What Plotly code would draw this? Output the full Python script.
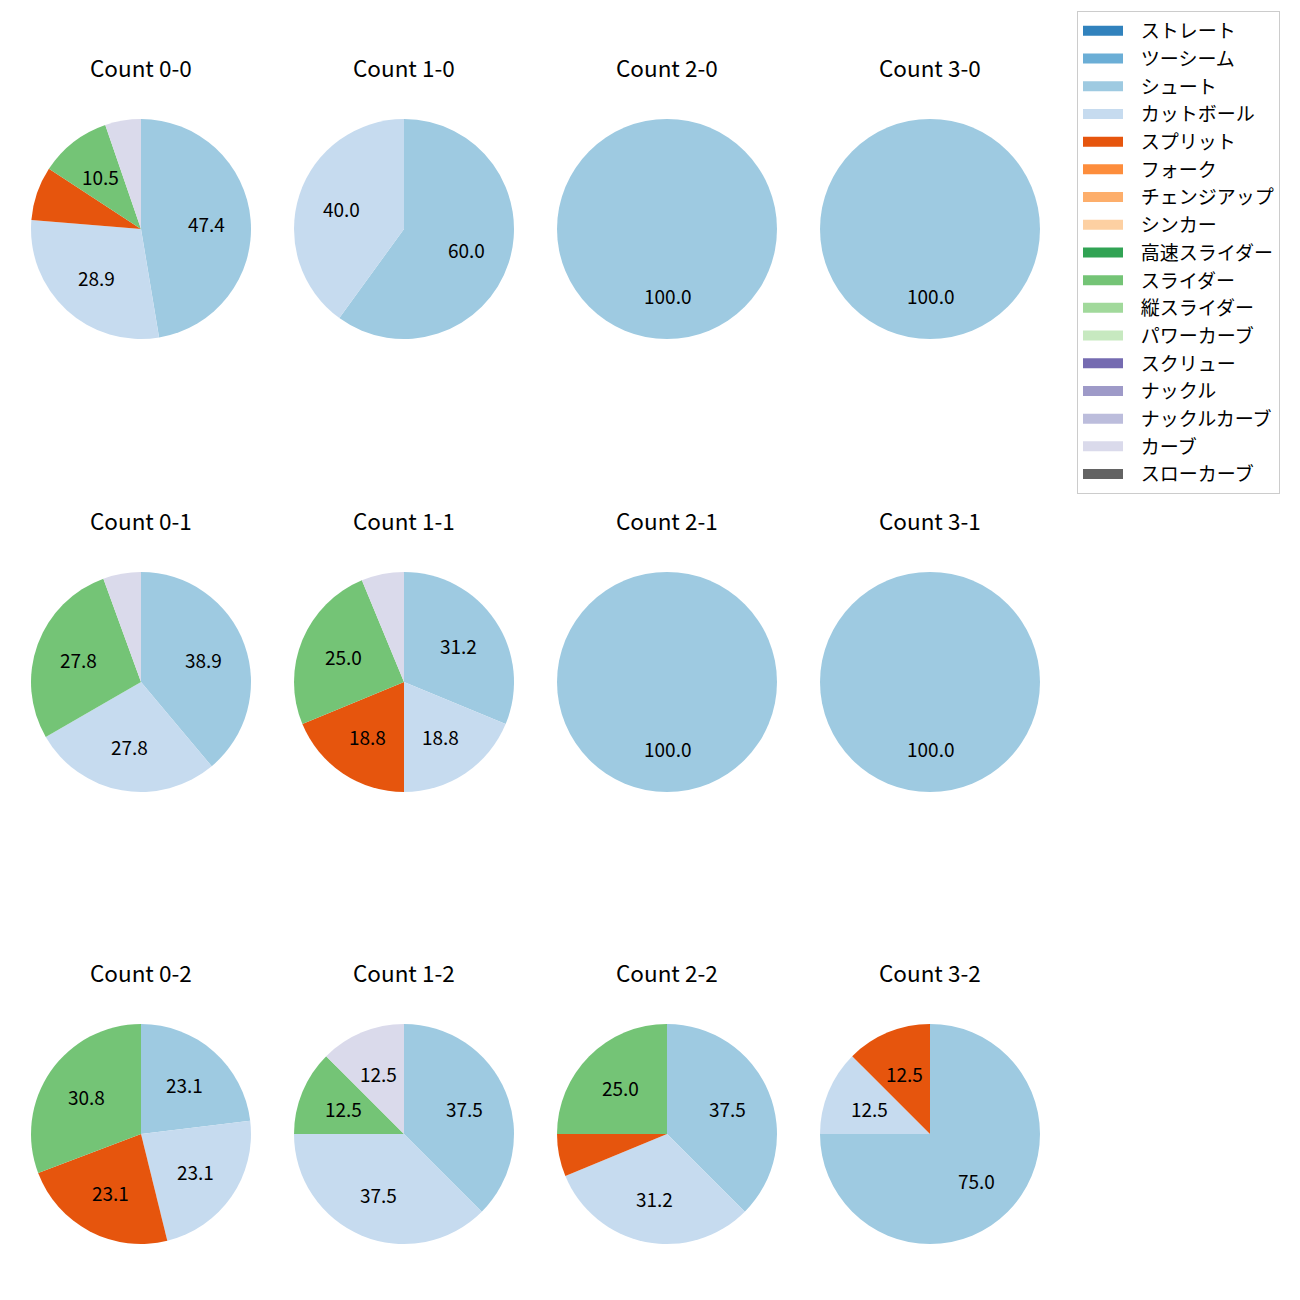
import math
import plotly.graph_objects as go

W, H = 1300, 1300
OFF = 8  # browser body margin

pitch_types = ["ストレート", "ツーシーム", "シュート", "カットボール", "スプリット", "フォーク",
               "チェンジアップ", "シンカー", "高速スライダー", "スライダー", "縦スライダー",
               "パワーカーブ", "スクリュー", "ナックル", "ナックルカーブ", "カーブ", "スローカーブ"]
colors = ["#3182bd", "#6baed6", "#9ecae1", "#c6dbef", "#e6550d", "#fd8d3c", "#fdae6b",
          "#fdd0a2", "#31a354", "#74c476", "#a1d99b", "#c7e9c0", "#756bb1", "#9e9ac8",
          "#bcbddc", "#dadaeb", "#636363"]

counts = ["0-0", "1-0", "2-0", "3-0",
          "0-1", "1-1", "2-1", "3-1",
          "0-2", "1-2", "2-2", "3-2"]

# pitch counts per ball-strike count (only non-zero types listed)
data = {
    "0-0": {"シュート": 18, "カットボール": 11, "スプリット": 3, "スライダー": 4, "カーブ": 2},
    "1-0": {"シュート": 3, "カットボール": 2},
    "2-0": {"シュート": 1},
    "3-0": {"シュート": 1},
    "0-1": {"シュート": 7, "カットボール": 5, "スライダー": 5, "カーブ": 1},
    "1-1": {"シュート": 5, "カットボール": 3, "スプリット": 3, "スライダー": 4, "カーブ": 1},
    "2-1": {"シュート": 1},
    "3-1": {"シュート": 1},
    "0-2": {"シュート": 3, "カットボール": 3, "スプリット": 3, "スライダー": 4},
    "1-2": {"シュート": 3, "カットボール": 3, "スライダー": 1, "カーブ": 1},
    "2-2": {"シュート": 6, "カットボール": 5, "スプリット": 1, "スライダー": 4},
    "3-2": {"シュート": 6, "カットボール": 1, "スプリット": 1},
}

col_cx = [141, 404, 667, 930]
row_cy = [229, 682, 1134]
R = 110
title_offset = 162
FONT = "Noto Sans CJK JP, Noto Sans, sans-serif"

fig = go.Figure()
annotations = []

for i, cnt in enumerate(counts):
    r_i, c_i = divmod(i, 4)
    cx, cy = col_cx[c_i] - OFF, row_cy[r_i] - OFF
    d = data[cnt]
    labels = [p for p in pitch_types if d.get(p, 0) > 0]
    vals = [d[p] for p in labels]
    cols = [colors[pitch_types.index(p)] for p in labels]
    fig.add_trace(go.Pie(
        labels=labels, values=vals, sort=False, direction="clockwise", rotation=0,
        marker=dict(colors=cols, line=dict(width=0)),
        textinfo="none", hoverinfo="label+percent", showlegend=False,
        domain=dict(x=[(cx - R) / W, (cx + R) / W], y=[1 - (cy + R) / H, 1 - (cy - R) / H]),
    ))
    total = sum(vals)
    cum = 0
    for v in vals:
        pct = 100 * v / total
        theta = math.radians(90 - 360 * (cum + v / 2) / total)
        cum += v
        if pct >= 10:
            tx = cx + 0.6 * R * math.cos(theta)
            ty = cy - 0.6 * R * math.sin(theta)
            annotations.append(dict(
                x=tx / W, y=1 - ty / H, xref="paper", yref="paper",
                text=f"{pct:.1f}", showarrow=False,
                font=dict(size=19, color="black", family=FONT),
                xanchor="center", yanchor="middle"))
    annotations.append(dict(
        x=cx / W, y=1 - (cy - title_offset) / H, xref="paper", yref="paper",
        text=f"Count {cnt}", showarrow=False,
        font=dict(size=22.5, color="black", family=FONT),
        xanchor="center", yanchor="middle"))

# legend entries
for p, c in zip(pitch_types, colors):
    fig.add_trace(go.Scatter(x=[None], y=[None], name="\u00a0\u00a0\u00a0" + p, mode="lines",
                             line=dict(color=c, width=14),
                             legendgroup=p, showlegend=True, hoverinfo="skip"))

fig.update_layout(
    width=W, height=H,
    margin=dict(l=0, r=0, t=0, b=0),
    paper_bgcolor="white", plot_bgcolor="white",
    xaxis=dict(visible=False), yaxis=dict(visible=False),
    annotations=annotations,
    font=dict(family=FONT, color="black"),
    legend=dict(
        x=(1077 - OFF) / W, y=1 - (11 - OFF) / H, xanchor="left", yanchor="top",
        bordercolor="#cccccc", borderwidth=1, bgcolor="white",
        font=dict(size=19, family=FONT, color="black"),
        traceorder="grouped", tracegroupgap=0,
        itemwidth=40,
    ),
)

fig.write_html("out.html")
